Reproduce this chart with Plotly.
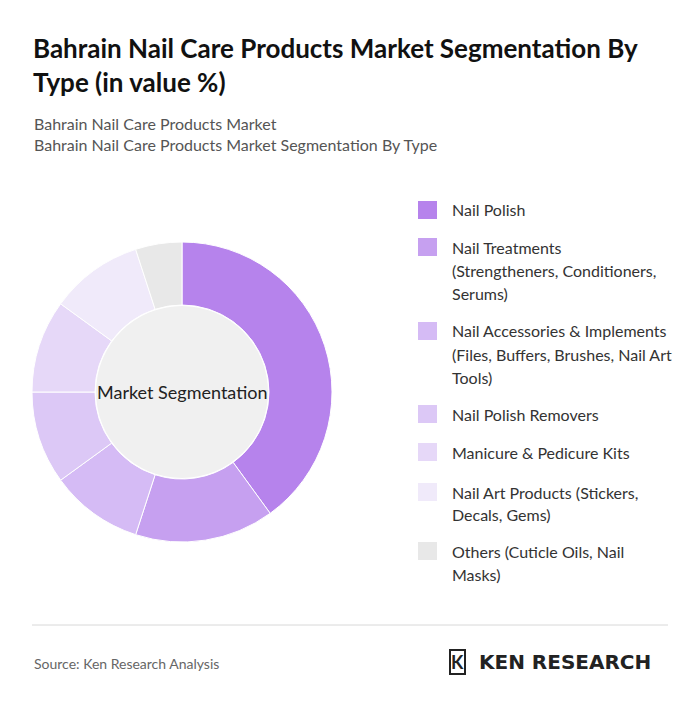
import plotly.graph_objects as go

W, H = 700, 711
OFF = 8  # page body margin

# data
labels = ["Nail Polish",
          "Nail Treatments<br>(Strengtheners, Conditioners,<br>Serums)",
          "Nail Accessories & Implements<br>(Files, Buffers, Brushes, Nail Art<br>Tools)",
          "Nail Polish Removers",
          "Manicure & Pedicure Kits",
          "Nail Art Products (Stickers,<br>Decals, Gems)",
          "Others (Cuticle Oils, Nail<br>Masks)"]
values = [40, 15, 10, 10, 10, 10, 5]
colors = ["#b683ec", "#c6a0f0", "#d5bbf5", "#dcc8f6", "#e6d8f8", "#f0eafa", "#e8e8e8"]
legend_y = [210, 247, 331, 414, 452, 492, 551]  # px from top

def px(x): return (x - OFF) / W
def py(y): return 1 - (y - OFF) / H

fig = go.Figure()
fig.add_trace(go.Pie(labels=[l.replace("<br>", " ") for l in labels], values=values,
                     marker=dict(colors=colors, line=dict(color="white", width=1)),
                     hole=0.58, sort=False, direction="clockwise", rotation=0,
                     textinfo="none", showlegend=False,
                     domain=dict(x=[px(32), px(332)], y=[py(542), py(242)])))

shapes = []
ann = []
# grey centre
shapes.append(dict(type="circle", xref="paper", yref="paper",
                   x0=px(182 - 86), x1=px(182 + 86), y0=py(392 + 86), y1=py(392 - 86),
                   fillcolor="#f0f0f0", line=dict(width=0), layer="below"))
ann.append(dict(text="Market Segmentation", x=px(182), y=py(392), xanchor="center",
                yanchor="middle", font=dict(size=18, color="#222")))

for lab, c, y in zip(labels, colors, legend_y):
    shapes.append(dict(type="rect", xref="paper", yref="paper",
                       x0=px(418), x1=px(437), y0=py(y + 9), y1=py(y - 9),
                       fillcolor=c, line=dict(width=0)))
    for i, line in enumerate(lab.split("<br>")):
        ann.append(dict(text=line, x=px(450), y=py(y + 23 * i), xanchor="left", yanchor="middle",
                        font=dict(size=16, color="#333")))

shapes.append(dict(type="line", xref="paper", yref="paper", x0=px(32), x1=px(668),
                   y0=py(625), y1=py(625), line=dict(color="#d8d8d8", width=1)))

ann += [
    dict(text="<b>Bahrain Nail Care Products Market Segmentation By<br>Type (in value %)</b>",
         x=px(31), y=py(30), xanchor="left", yanchor="top", align="left",
         font=dict(size=26, color="#111")),
    dict(text="Bahrain Nail Care Products Market<br>Bahrain Nail Care Products Market Segmentation By Type",
         x=px(32), y=py(112), xanchor="left", yanchor="top", align="left",
         font=dict(size=16, color="#555")),
    dict(text="Source: Ken Research Analysis", x=px(32), y=py(663), xanchor="left",
         yanchor="middle", font=dict(size=14, color="#666")),
    dict(text="<b>K</b>", x=px(449), y=py(662), xanchor="left", yanchor="middle",
         font=dict(size=18, color="#222"), bordercolor="#222", borderwidth=2, borderpad=0),
    dict(text="<b>KEN RESEARCH</b>", x=px(477), y=py(662), xanchor="left", yanchor="middle",
         font=dict(size=20, color="#222", family="DejaVu Sans")),
]
for a in ann:
    a.setdefault("xref", "paper"); a.setdefault("yref", "paper"); a.setdefault("showarrow", False)

fig.update_layout(width=W, height=H, margin=dict(l=0, r=0, t=0, b=0),
                  paper_bgcolor="white", plot_bgcolor="white",
                  font=dict(family="Lato"), shapes=shapes, annotations=ann)
fig.write_html("out.html")
